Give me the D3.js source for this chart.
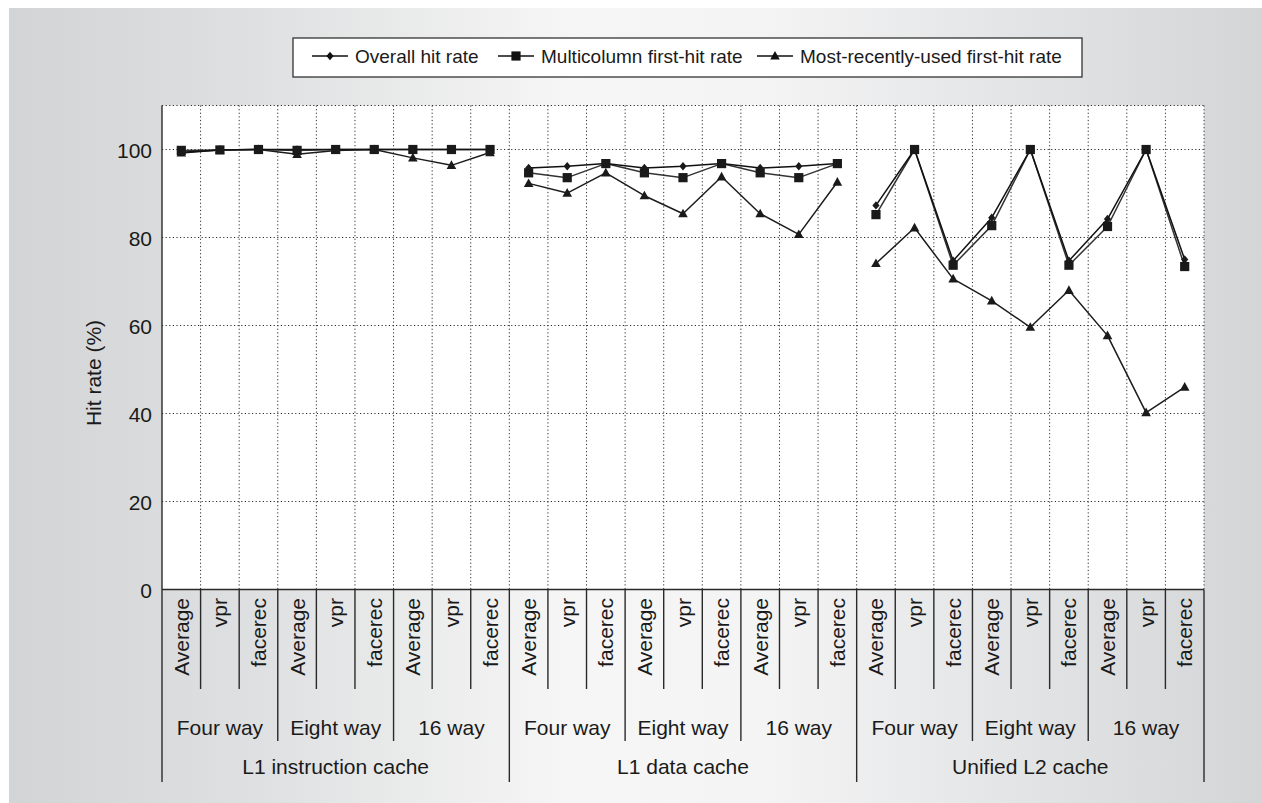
<!DOCTYPE html>
<html>
<head>
<meta charset="utf-8">
<script src="https://cdn.jsdelivr.net/npm/d3@7"></script>
<style>
  html, body { margin: 0; padding: 0; background: #fff; }
  svg { display: block; font-family: "Liberation Sans", Arial, Helvetica, sans-serif; }
</style>
</head>
<body>
<svg id="chart" width="1262" height="803"></svg>
<script>
// Category hierarchy along the x axis
const caches = ["L1 instruction cache", "L1 data cache", "Unified L2 cache"];
const ways = ["Four way", "Eight way", "16 way"];
const benchmarks = ["Average", "vpr", "facerec"];

// Hit rates (%) in category order: cache → associativity → benchmark
const overallHitRate = [
  99.4, 99.9, 100, 100, 100, 100, 100, 100, 100,
  95.8, 96.2, 96.8, 95.8, 96.2, 96.8, 95.8, 96.2, 96.8,
  87.3, 100, 74.7, 84.5, 100, 74.7, 84.2, 100, 75.0
];
const multicolumnFirstHit = [
  99.8, 99.9, 100, 99.8, 100, 100, 100, 100, 100,
  94.7, 93.6, 96.8, 94.7, 93.6, 96.8, 94.7, 93.6, 96.8,
  85.2, 100, 73.7, 82.7, 100, 73.7, 82.5, 100, 73.4
];
const mruFirstHit = [
  99.2, 99.9, 100, 98.9, 99.8, 100, 98.1, 96.4, 99.3,
  92.3, 90.1, 94.7, 89.5, 85.4, 93.8, 85.4, 80.7, 92.6,
  74.1, 82.2, 70.6, 65.6, 59.6, 68.0, 57.7, 40.2, 46.0
];

const yTicks = [0, 20, 40, 60, 80, 100];
const yMax = 110;

const seriesNames = ["Overall hit rate", "Multicolumn first-hit rate", "Most-recently-used first-hit rate"];

// ---- layout ----
const W = 1262, H = 803;
const plot = { left: 162, right: 1204, top: 105.5, bottom: 589.5 };
const leafTickEnd = 689, wayTickEnd = 741, cacheTickEnd = 782;
const FS = 21;

const keys = [];
caches.forEach(c => ways.forEach(w => benchmarks.forEach(b => keys.push(`${c}|${w}|${b}`))));

const svg = d3.select("#chart");
const defs = svg.append("defs");

// soft grey panel, lighter towards the middle
const grad = defs.append("linearGradient").attr("id", "panelGrad")
  .attr("x1", "0").attr("x2", "1").attr("y1", "0").attr("y2", "0");
[[0, "#d3d4d6"], [0.2, "#dfe0e1"], [0.45, "#f6f6f6"], [0.6, "#f4f4f5"], [0.82, "#e2e3e4"], [1, "#d4d5d7"]]
  .forEach(([o, c]) => grad.append("stop").attr("offset", o).attr("stop-color", c));

svg.append("rect").attr("width", W).attr("height", H).attr("fill", "#fff");
svg.append("rect").attr("x", 9).attr("y", 8).attr("width", W - 9).attr("height", H - 8)
  .attr("fill", "url(#panelGrad)");

const x = d3.scaleBand().domain(keys).range([plot.left, plot.right]).padding(0);
const y = d3.scaleLinear().domain([0, yMax]).range([plot.bottom, plot.top]);
const bw = x.bandwidth();
const cx = i => x(keys[i]) + bw / 2;

// plot background
svg.append("rect")
  .attr("x", plot.left).attr("y", plot.top)
  .attr("width", plot.right - plot.left).attr("height", plot.bottom - plot.top)
  .attr("fill", "#fff");

// dotted grid
const grid = svg.append("g").attr("stroke", "#2e2e2e").attr("stroke-width", 1)
  .attr("stroke-dasharray", "1.2,2.4");
grid.selectAll("line.h").data(yTicks.filter(t => t > 0).concat([yMax])).join("line")
  .attr("x1", plot.left).attr("x2", plot.right)
  .attr("y1", d => y(d)).attr("y2", d => y(d));
grid.selectAll("line.v").data(d3.range(1, keys.length + 1)).join("line")
  .attr("x1", i => plot.left + i * bw).attr("x2", i => plot.left + i * bw)
  .attr("y1", plot.top).attr("y2", plot.bottom);

// y axis
const yAxis = d3.axisLeft(y).tickValues(yTicks).tickSize(0).tickPadding(10);
const yg = svg.append("g").attr("transform", `translate(${plot.left},0)`).call(yAxis);
yg.select(".domain").remove();
yg.selectAll("text").attr("font-size", FS).attr("fill", "#1a1a1a")
  .attr("font-family", "Liberation Sans, Arial, sans-serif").attr("dy", "0.38em");

svg.append("text")
  .attr("transform", "translate(101,373) rotate(-90)")
  .attr("text-anchor", "middle").attr("font-size", FS).attr("fill", "#1a1a1a")
  .text("Hit rate (%)");

// axis lines and category dividers
const axisG = svg.append("g").attr("stroke", "#2a2a2a").attr("stroke-width", 1.4);
axisG.append("line").attr("x1", plot.left).attr("x2", plot.left)
  .attr("y1", plot.top).attr("y2", cacheTickEnd);
axisG.append("line").attr("x1", plot.left).attr("x2", plot.right)
  .attr("y1", plot.bottom).attr("y2", plot.bottom);
axisG.selectAll("line.div").data(d3.range(1, keys.length + 1)).join("line")
  .attr("x1", i => plot.left + i * bw).attr("x2", i => plot.left + i * bw)
  .attr("y1", plot.bottom)
  .attr("y2", i => i % 9 === 0 ? cacheTickEnd : (i % 3 === 0 ? wayTickEnd : leafTickEnd));

// benchmark labels (rotated)
svg.append("g").selectAll("text").data(keys).join("text")
  .attr("transform", d => `translate(${x(d) + bw / 2},598) rotate(-90)`)
  .attr("text-anchor", "end").attr("dominant-baseline", "central")
  .attr("font-size", FS).attr("fill", "#1a1a1a")
  .text(d => d.split("|")[2]);

// associativity labels
const wayKeys = [];
caches.forEach(c => ways.forEach(w => wayKeys.push(`${c}|${w}`)));
svg.append("g").selectAll("text").data(wayKeys).join("text")
  .attr("x", d => x(`${d}|${benchmarks[0]}`) + bw * 1.5)
  .attr("y", 735)
  .attr("text-anchor", "middle").attr("font-size", FS).attr("fill", "#1a1a1a")
  .text(d => d.split("|")[1]);

// cache labels
svg.append("g").selectAll("text").data(caches).join("text")
  .attr("x", c => x(`${c}|${ways[1]}|${benchmarks[1]}`) + bw / 2)
  .attr("y", 774)
  .attr("text-anchor", "middle").attr("font-size", FS).attr("fill", "#1a1a1a")
  .text(c => c);

// markers
const markerPath = {
  diamond: "M0,-4.2L3.6,0L0,4.2L-3.6,0Z",
  square: "M-4.6,-4.6H4.6V4.6H-4.6Z",
  triangle: "M0,-5L4.8,3.6H-4.8Z"
};

const series = [
  { name: seriesNames[2], values: mruFirstHit, marker: "triangle", stroke: "#1c1c1c" },
  { name: seriesNames[1], values: multicolumnFirstHit, marker: "square", stroke: "#333" },
  { name: seriesNames[0], values: overallHitRate, marker: "diamond", stroke: "#111" }
];

const line = d3.line().x(d => cx(d.i)).y(d => y(d.v));

// one polyline per cache, per series (no link between caches)
const lineG = svg.append("g").attr("fill", "none").attr("stroke-width", 1.5)
  .attr("stroke-linejoin", "round");
series.forEach(s => {
  caches.forEach((c, ci) => {
    const pts = s.values.map((v, i) => ({ v, i })).filter(d => Math.floor(d.i / 9) === ci);
    lineG.append("path").attr("stroke", s.stroke).attr("d", line(pts));
  });
});

const markG = svg.append("g").attr("fill", "#1a1a1a");
series.forEach(s => {
  markG.selectAll(null).data(s.values).join("path")
    .attr("transform", (d, i) => `translate(${cx(i)},${y(d)})`)
    .attr("d", markerPath[s.marker]);
});

// legend
const legend = svg.append("g");
legend.append("rect").attr("x", 293).attr("y", 38).attr("width", 789).attr("height", 39)
  .attr("fill", "#fff").attr("stroke", "#333").attr("stroke-width", 1.3);
const legendItems = [
  { name: seriesNames[0], marker: "diamond", x0: 312 },
  { name: seriesNames[1], marker: "square", x0: 498 },
  { name: seriesNames[2], marker: "triangle", x0: 757 }
];
const li = legend.selectAll("g.item").data(legendItems).join("g")
  .attr("transform", d => `translate(${d.x0},56)`);
li.append("line").attr("x1", 0).attr("x2", 36).attr("stroke", "#111").attr("stroke-width", 1.5);
li.append("path").attr("transform", "translate(18,0)").attr("fill", "#111")
  .attr("d", d => markerPath[d.marker]);
li.append("text").attr("x", 43).attr("dy", "0.36em").attr("font-size", 19).attr("fill", "#1a1a1a")
  .text(d => d.name);
</script>
</body>
</html>
